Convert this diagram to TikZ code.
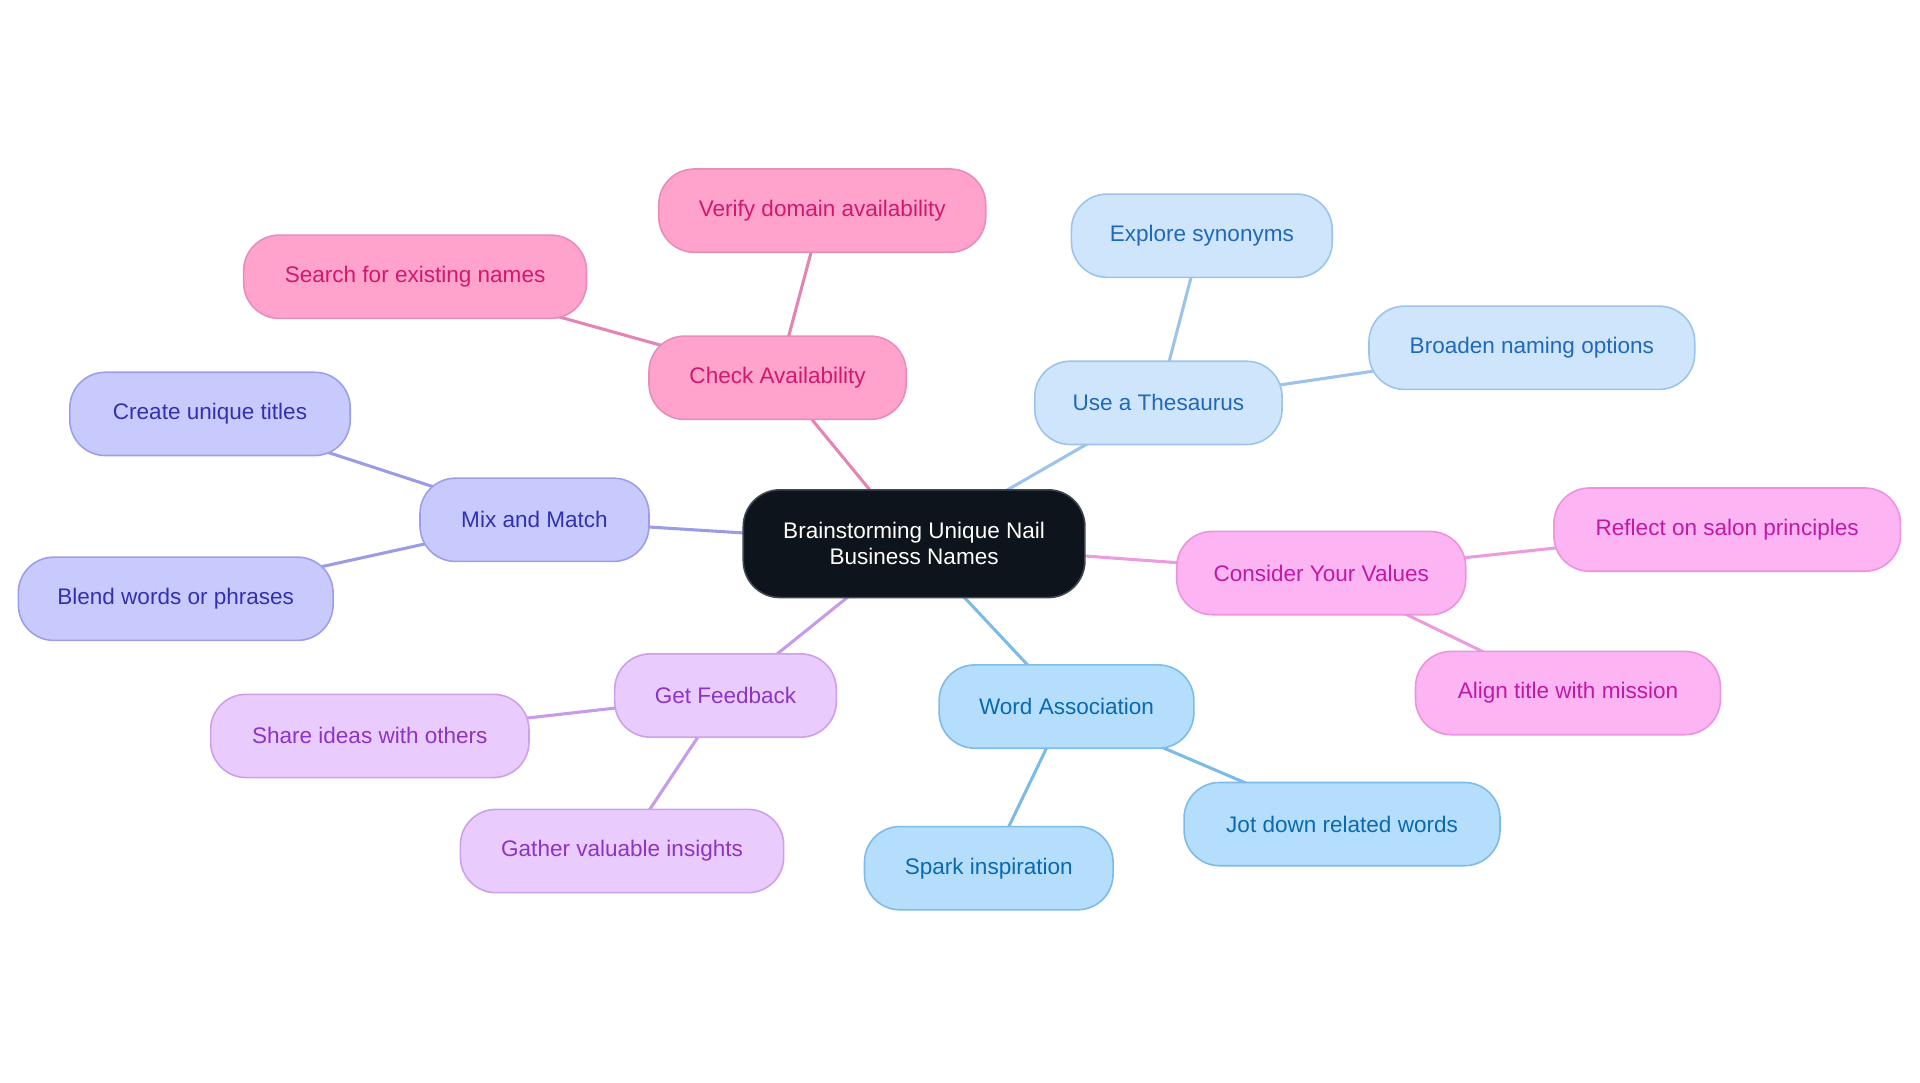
\documentclass[tikz,border=0pt]{standalone}
\usepackage{fontspec}
\setmainfont{Liberation Sans}
\usetikzlibrary{backgrounds}
\definecolor{pkF}{HTML}{FFA3CD}\definecolor{pkD}{HTML}{E88DBA}\definecolor{pkT}{HTML}{D1186C}\definecolor{pkL}{HTML}{E384B5}
\definecolor{thF}{HTML}{CFE5FC}\definecolor{thD}{HTML}{9CC3EC}\definecolor{thT}{HTML}{1F68BA}\definecolor{thL}{HTML}{9DC3EA}
\definecolor{mxF}{HTML}{C8CAFD}\definecolor{mxD}{HTML}{9B9FEA}\definecolor{mxT}{HTML}{3330B0}\definecolor{mxL}{HTML}{9A9DE6}
\definecolor{fbF}{HTML}{EACBFD}\definecolor{fbD}{HTML}{CCA0EC}\definecolor{fbT}{HTML}{8C34C4}\definecolor{fbL}{HTML}{C89BEA}
\definecolor{waF}{HTML}{B4DEFC}\definecolor{waD}{HTML}{7DBBE9}\definecolor{waT}{HTML}{0C69AD}\definecolor{waL}{HTML}{7DBAE6}
\definecolor{cvF}{HTML}{FDB4F3}\definecolor{cvD}{HTML}{EB93DF}\definecolor{cvT}{HTML}{C01AA3}\definecolor{cvL}{HTML}{EA9CDF}
\definecolor{ctF}{HTML}{0D141B}\definecolor{ctD}{HTML}{40464D}
\begin{document}
\begin{tikzpicture}[x=1pt,y=-1pt,
  box/.style={rectangle, rounded corners=29pt, minimum height=68pt, line width=1.3pt,
    font=\fontsize{18.4}{21}\selectfont, inner sep=0pt, align=center},
  pk/.style={box, fill=pkF, draw=pkD, text=pkT},
  th/.style={box, fill=thF, draw=thD, text=thT},
  mx/.style={box, fill=mxF, draw=mxD, text=mxT},
  fb/.style={box, fill=fbF, draw=fbD, text=fbT},
  wa/.style={box, fill=waF, draw=waD, text=waT},
  cv/.style={box, fill=cvF, draw=cvD, text=cvT},
  link/.style={line width=2.5pt, line cap=round}]
\useasboundingbox (0,0) rectangle (1568,884.4);

\node[box, fill=ctF, draw=ctD, text=white, minimum width=279pt, minimum height=88pt, rounded corners=30pt] (c) at (746.5,444) {Brainstorming Unique Nail\\Business Names};

\node[pk, minimum width=210pt] (ca) at (635,308.5) {Check Availability};
\node[pk, minimum width=267pt] (ca1) at (671.5,172) {Verify domain availability};
\node[pk, minimum width=280pt] (ca2) at (339,226) {Search for existing names};

\node[th, minimum width=202pt] (th) at (946,329) {Use a Thesaurus};
\node[th, minimum width=213pt] (th1) at (981.5,192.5) {Explore synonyms};
\node[th, minimum width=266pt] (th2) at (1251,284) {Broaden naming options};

\node[mx, minimum width=187pt] (mx) at (436.5,424.5) {Mix and Match};
\node[mx, minimum width=229pt] (mx1) at (171.5,338) {Create unique titles};
\node[mx, minimum width=257pt] (mx2) at (143.5,489) {Blend words or phrases};

\node[cv, minimum width=236pt] (cv) at (1079,468) {Consider Your Values};
\node[cv, minimum width=283pt] (cv1) at (1410.5,432.5) {Reflect on salon principles};
\node[cv, minimum width=249pt] (cv2) at (1280.5,566) {Align title with mission};

\node[wa, minimum width=208pt] (wa) at (871,577) {Word Association};
\node[wa, minimum width=258pt] (wa1) at (1096,673) {Jot down related words};
\node[wa, minimum width=203pt] (wa2) at (807.5,709) {Spark inspiration};

\node[fb, minimum width=181pt] (fb) at (592.5,568) {Get Feedback};
\node[fb, minimum width=260pt] (fb1) at (302,601) {Share ideas with others};
\node[fb, minimum width=264pt] (fb2) at (508,695) {Gather valuable insights};

\begin{pgfonlayer}{background}
\draw[link, pkL] (c.center) -- (ca.center);
\draw[link, pkL] (ca.center) -- (ca1.center);
\draw[link, pkL] (ca.center) -- (ca2.center);
\draw[link, thL] (c.center) -- (th.center);
\draw[link, thL] (th.center) -- (th1.center);
\draw[link, thL] (th.center) -- (th2.center);
\draw[link, mxL] (c.center) -- (mx.center);
\draw[link, mxL] (mx.center) -- (mx1.center);
\draw[link, mxL] (mx.center) -- (mx2.center);
\draw[link, cvL] (c.center) -- (cv.center);
\draw[link, cvL] (cv.center) -- (cv1.center);
\draw[link, cvL] (cv.center) -- (cv2.center);
\draw[link, waL] (c.center) -- (wa.center);
\draw[link, waL] (wa.center) -- (wa1.center);
\draw[link, waL] (wa.center) -- (wa2.center);
\draw[link, fbL] (c.center) -- (fb.center);
\draw[link, fbL] (fb.center) -- (fb1.center);
\draw[link, fbL] (fb.center) -- (fb2.center);
\end{pgfonlayer}
\end{tikzpicture}
\end{document}
